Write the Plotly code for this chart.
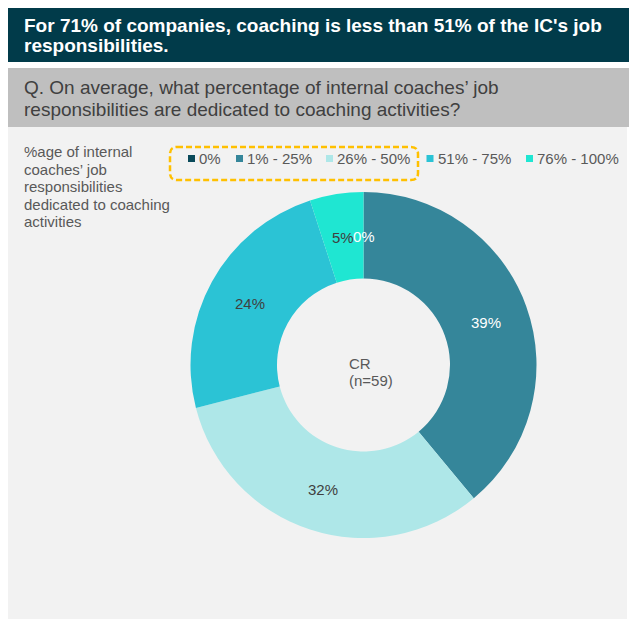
import math
import plotly.graph_objects as go

W, H = 629, 619

# ---- data ----
categories = ["0%", "1% - 25%", "26% - 50%", "51% - 75%", "76% - 100%"]
shares = [0, 39, 32, 24, 5]
colors = ["#0A4A5A", "#35869A", "#AEE7E8", "#2BC3D5", "#1FE6D2"]
label_colors = ["#FFFFFF", "#FFFFFF", "#404040", "#404040", "#404040"]

title_lines = ["For 71% of companies, coaching is less than 51% of the IC's job",
               "responsibilities."]
question_lines = ["Q. On average, what percentage of internal coaches\u2019 job",
                  "responsibilities are dedicated to coaching activities?"]
side_lines = ["%age of internal", "coaches\u2019 job", "responsibilities",
              "dedicated to coaching", "activities"]
center_lines = ["CR", "(n=59)"]

FONT = "Liberation Sans, Arial, sans-serif"


def px(x):
    return x / W


def py(y):
    return 1 - y / H


fig = go.Figure()

# donut: centre (363.5, 365), radius 173
cx, cy, R = 363.5, 365.0, 173.0
HOLE = 0.5
fig.add_trace(go.Pie(
    labels=categories,
    values=shares,
    sort=False,
    direction="clockwise",
    rotation=0,
    hole=HOLE,
    marker=dict(colors=colors, line=dict(width=0)),
    textinfo="none",
    hoverinfo="skip",
    showlegend=False,
    domain=dict(x=[px(cx - R), px(cx + R)], y=[py(cy + R), py(cy - R)]),
))

shapes = []
# backgrounds
shapes.append(dict(type="rect", xref="paper", yref="paper", x0=px(8), x1=px(629),
                   y0=py(62), y1=py(8), fillcolor="#013B4A", line=dict(width=0), layer="below"))
shapes.append(dict(type="rect", xref="paper", yref="paper", x0=px(8), x1=px(629),
                   y0=py(127), y1=py(68), fillcolor="#BFBFBF", line=dict(width=0), layer="below"))
shapes.append(dict(type="rect", xref="paper", yref="paper", x0=px(8), x1=px(627),
                   y0=py(619), y1=py(127), fillcolor="#F2F2F2", line=dict(width=0), layer="below"))

annotations = []
# title
for i, t in enumerate(title_lines):
    annotations.append(dict(text="<b>%s</b>" % t, x=px(22), y=py(25 + 20.5 * i), xref="paper", yref="paper",
                            xanchor="left", yanchor="middle", showarrow=False,
                            font=dict(family=FONT, size=19, color="#FFFFFF")))
# question
for i, t in enumerate(question_lines):
    annotations.append(dict(text=t, x=px(22), y=py(87.5 + 22 * i), xref="paper", yref="paper",
                            xanchor="left", yanchor="middle", showarrow=False,
                            font=dict(family=FONT, size=19, color="#404040")))
# side label
for i, t in enumerate(side_lines):
    annotations.append(dict(text=t, x=px(22), y=py(152 + 17.5 * i), xref="paper", yref="paper",
                            xanchor="left", yanchor="middle", showarrow=False,
                            font=dict(family=FONT, size=15, color="#595959")))
# centre text
for i, t in enumerate(center_lines):
    annotations.append(dict(text=t, x=px(347), y=py(363 + 17.3 * i), xref="paper", yref="paper",
                            xanchor="left", yanchor="middle", showarrow=False,
                            font=dict(family=FONT, size=15, color="#595959")))

# slice value labels at each slice's mid-angle (derived from the data), mid-ring radius
total = sum(shares)
cum = 0
rm = R * (1 + HOLE) / 2
for v, c in zip(shares, label_colors):
    th = 2 * math.pi * (cum + v / 2) / total
    annotations.append(dict(text="%d%%" % v, x=px(cx + rm * math.sin(th)), y=py(cy - rm * math.cos(th) + 1),
                            xref="paper", yref="paper", xanchor="center", yanchor="middle",
                            showarrow=False, font=dict(family=FONT, size=15, color=c)))
    cum += v

# custom legend
legend_x = [191.5, 239.5, 329.5, 430, 529.5]
legend_y = 158.5
sq = 3.5
for lx, lab, col in zip(legend_x, categories, colors):
    shapes.append(dict(type="rect", xref="paper", yref="paper", x0=px(lx - sq), x1=px(lx + sq),
                       y0=py(legend_y + sq), y1=py(legend_y - sq), fillcolor=col, line=dict(width=0)))
    annotations.append(dict(text=lab, x=px(lx + sq + 2), y=py(legend_y - 0.5), xref="paper", yref="paper",
                            xanchor="left", yanchor="middle", showarrow=False,
                            font=dict(family=FONT, size=15, color="#595959")))

# dashed rounded highlight box
bx0, bx1, by0, by1, r = 170, 418, 147, 180, 7
path = (f"M {px(bx0 + r)},{py(by0)} L {px(bx1 - r)},{py(by0)} "
        f"Q {px(bx1)},{py(by0)} {px(bx1)},{py(by0 + r)} L {px(bx1)},{py(by1 - r)} "
        f"Q {px(bx1)},{py(by1)} {px(bx1 - r)},{py(by1)} L {px(bx0 + r)},{py(by1)} "
        f"Q {px(bx0)},{py(by1)} {px(bx0)},{py(by1 - r)} L {px(bx0)},{py(by0 + r)} "
        f"Q {px(bx0)},{py(by0)} {px(bx0 + r)},{py(by0)} Z")
shapes.append(dict(type="path", xref="paper", yref="paper", path=path,
                   line=dict(color="#FFC000", width=2.5, dash="6px,3px")))

fig.update_layout(
    width=W, height=H,
    margin=dict(l=0, r=0, t=0, b=0),
    paper_bgcolor="#FFFFFF",
    plot_bgcolor="#FFFFFF",
    shapes=shapes,
    annotations=annotations,
    showlegend=False,
)

fig.write_html("out.html")
